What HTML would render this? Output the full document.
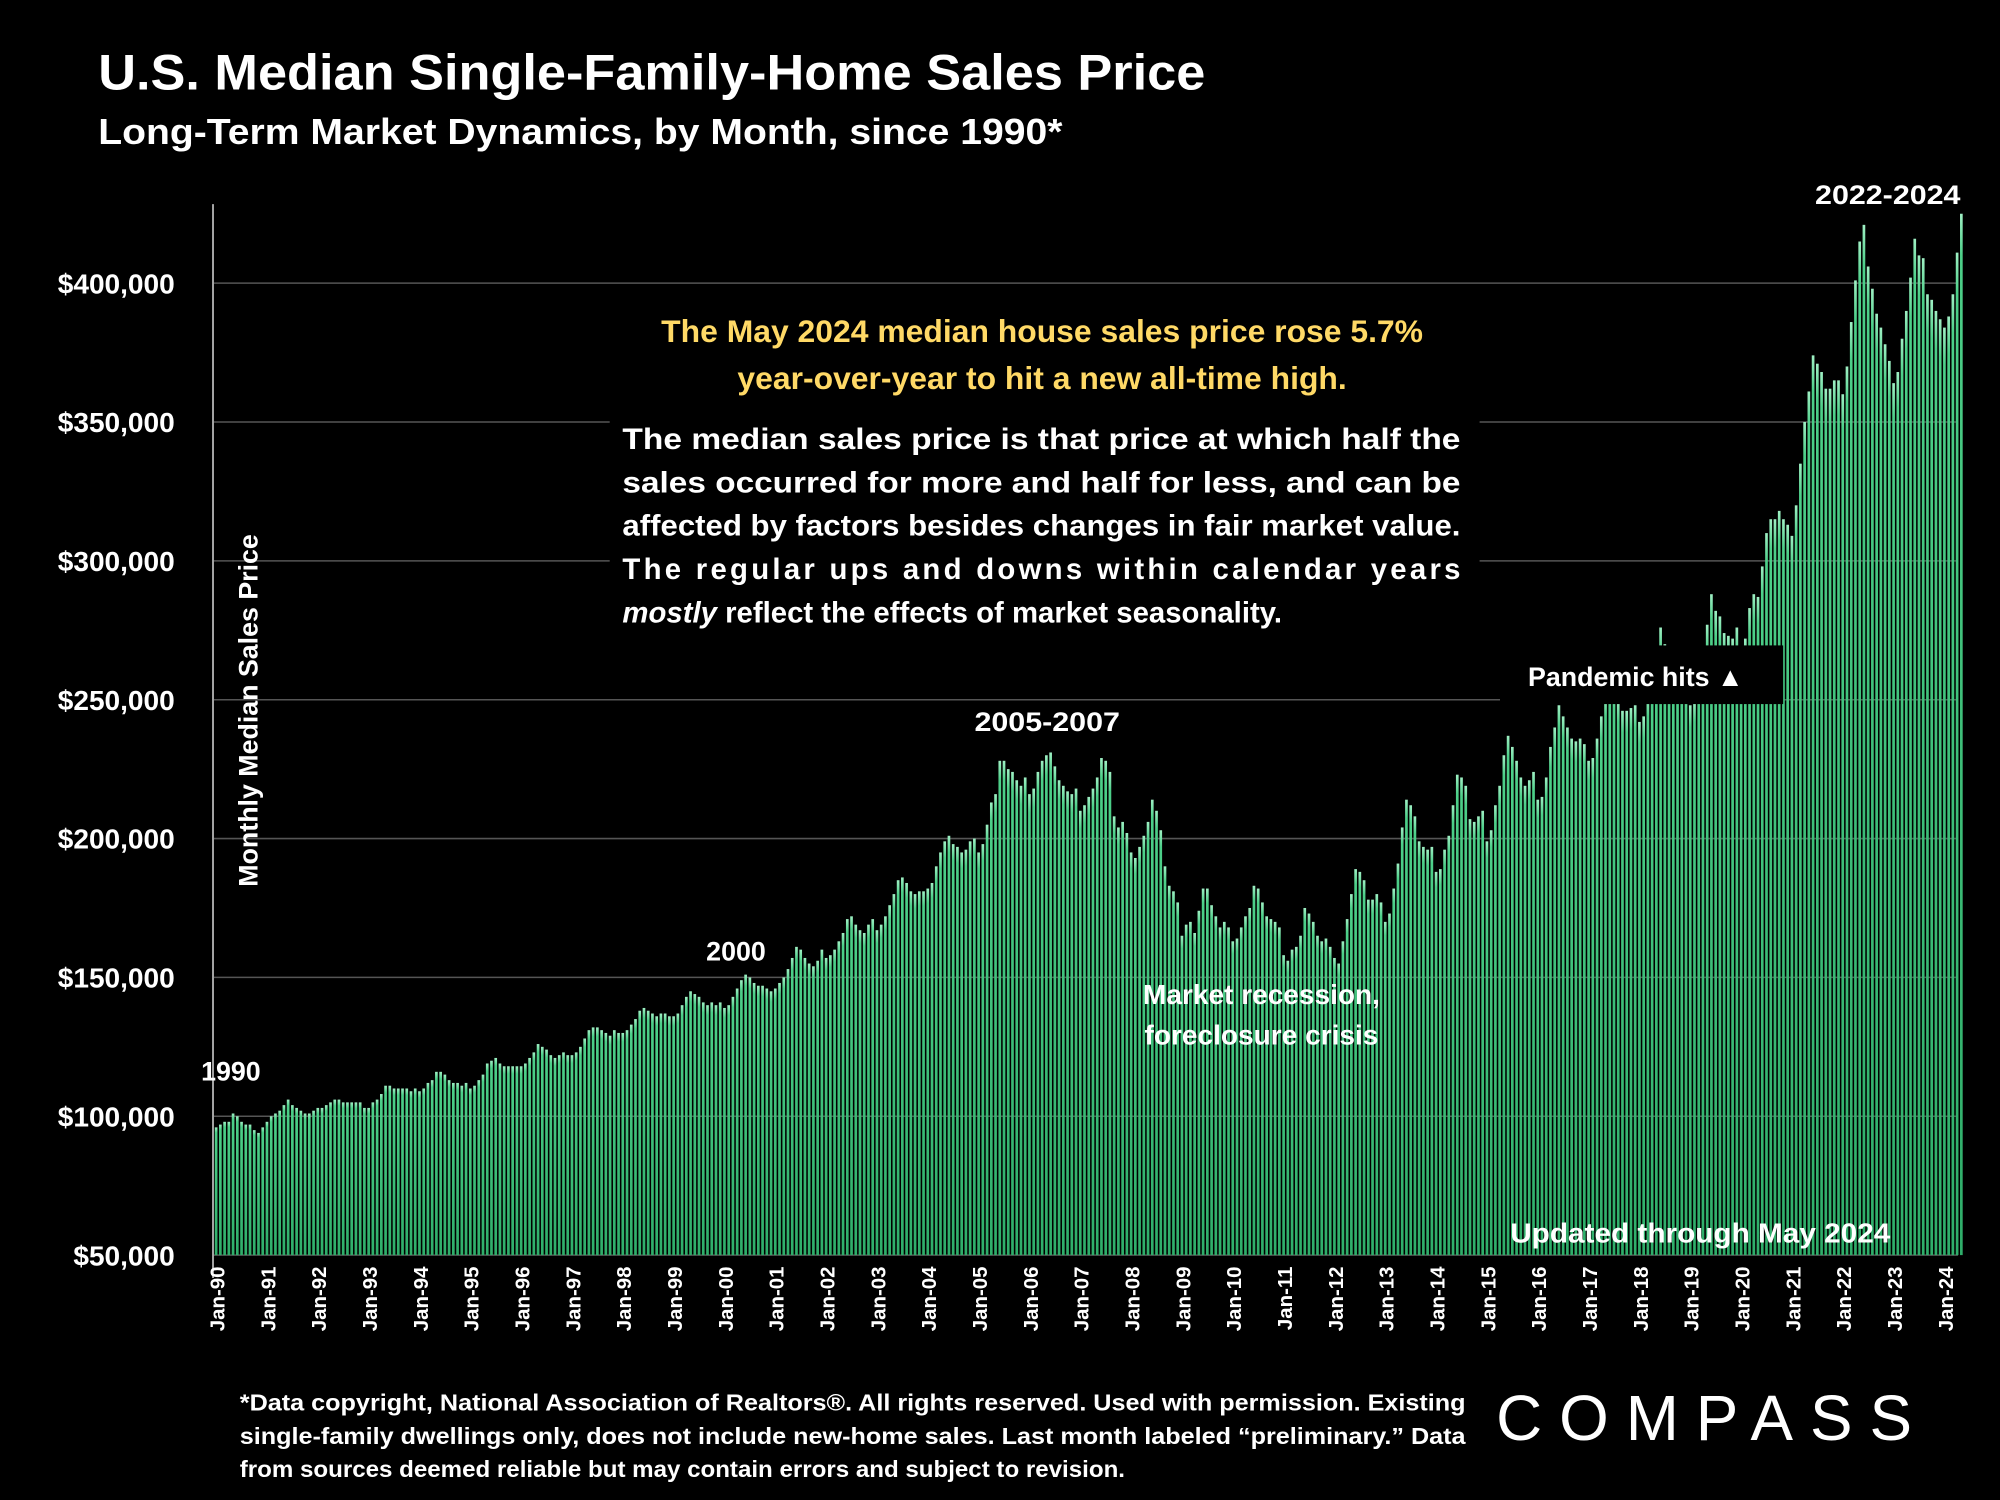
<!DOCTYPE html>
<html><head><meta charset="utf-8"><style>
html,body{margin:0;padding:0;background:#000;width:2000px;height:1500px;overflow:hidden}
svg{display:block}
text{font-family:"Liberation Sans",sans-serif;font-weight:bold;fill:#fff}
</style></head><body>
<svg id="chart" width="2000" height="1500" viewBox="0 0 1568 1176" xmlns="http://www.w3.org/2000/svg">
<defs><linearGradient id="bg" x1="0" y1="0" x2="0" y2="1"><stop offset="0" stop-color="#9ff0c4"/><stop offset="0.04" stop-color="#4ccf88"/><stop offset="1" stop-color="#2fae6a"/></linearGradient></defs>
<rect x="0" y="0" width="1568" height="1176" fill="#000"/>
<text x="77" y="70" font-size="39" textLength="868" lengthAdjust="spacingAndGlyphs">U.S. Median Single-Family-Home Sales Price</text>
<text x="77" y="113" font-size="28" textLength="756" lengthAdjust="spacingAndGlyphs">Long-Term Market Dynamics, by Month, since 1990*</text>
<g id="grid"></g>
<g id="bars"></g>
<line x1="167" y1="160" x2="167" y2="1002" stroke="#aaa" stroke-width="1.5"/>
<g id="yticks"></g>
<g id="xticks"></g>
<text transform="translate(202,557) rotate(-90)" text-anchor="middle" font-size="21">Monthly Median Sales Price</text>
<text x="181" y="847" text-anchor="middle" font-size="21">1990</text>
<text x="577" y="753" text-anchor="middle" font-size="21">2000</text>
<text x="821" y="573" text-anchor="middle" font-size="21" textLength="114" lengthAdjust="spacingAndGlyphs">2005-2007</text>
<text x="1480" y="160" text-anchor="middle" font-size="21" textLength="114" lengthAdjust="spacingAndGlyphs">2022-2024</text>
<rect x="478" y="326" width="682" height="170" fill="#000"/>
<text text-anchor="middle" font-size="25" style="fill:#ffd966"><tspan x="817" y="268">The May 2024 median house sales price rose 5.7%</tspan><tspan x="817" y="305">year-over-year to hit a new all-time high.</tspan></text>
<g font-size="23">
<text x="488" y="352" textLength="657" lengthAdjust="spacingAndGlyphs">The median sales price is that price at which half the</text>
<text x="488" y="386" textLength="657" lengthAdjust="spacingAndGlyphs">sales occurred for more and half for less, and can be</text>
<text x="488" y="420" textLength="657" lengthAdjust="spacingAndGlyphs">affected by factors besides changes in fair market value.</text>
<text x="488" y="454" textLength="657" lengthAdjust="spacing">The regular ups and downs within calendar years</text>
<text x="488" y="488"><tspan font-style="italic">mostly</tspan> reflect the effects of market seasonality.</text>
</g>
<rect x="1176" y="506" width="222" height="46" fill="#000"/>
<text x="1198" y="538" font-size="21">Pandemic hits ▲</text>
<text text-anchor="middle" font-size="22"><tspan x="989" y="787">Market recession,</tspan><tspan x="989" y="819">foreclosure crisis</tspan></text>
<text x="1333" y="974" text-anchor="middle" font-size="22" textLength="298" lengthAdjust="spacingAndGlyphs">Updated through May 2024</text>
<g font-size="18">
<text x="188" y="1106" textLength="961" lengthAdjust="spacingAndGlyphs">*Data copyright, National Association of Realtors®. All rights reserved. Used with permission. Existing</text>
<text x="188" y="1132" textLength="961" lengthAdjust="spacingAndGlyphs">single-family dwellings only, does  not include new-home sales. Last month labeled “preliminary.” Data</text>
<text x="188" y="1158" textLength="694" lengthAdjust="spacingAndGlyphs">from sources deemed reliable but may contain errors and subject to revision.</text>
</g>
<text x="1173" y="1129" font-size="50" style="font-weight:normal" letter-spacing="6" textLength="332" lengthAdjust="spacing">COMPASS</text>
</svg>
<script>
const yTicks = [50000,100000,150000,200000,250000,300000,350000,400000];
const xYears = ["90","91","92","93","94","95","96","97","98","99","00","01","02","03","04","05","06","07","08","09","10","11","12","13","14","15","16","17","18","19","20","21","22","23","24"];
const prices = [
96,97,98,98,101,100,98,97,97,95,94,96,
98,100,101,102,104,106,104,103,102,101,101,102,
103,103,104,105,106,106,105,105,105,105,105,103,
103,105,106,108,111,111,110,110,110,110,109,110,
109,110,112,113,116,116,115,113,112,112,111,112,
110,111,113,115,119,120,121,119,118,118,118,118,
118,119,121,123,126,125,124,122,121,122,123,122,
122,123,125,128,131,132,132,131,130,129,131,130,
130,131,133,135,138,139,138,137,136,137,137,136,
136,137,140,143,145,144,143,141,140,141,140,141,
139,140,143,146,149,151,150,148,147,147,146,145,
146,148,150,153,157,161,160,157,155,154,156,160,
157,158,160,163,166,171,172,169,167,166,169,171,
167,169,172,176,180,185,186,184,181,180,181,181,
182,184,190,195,199,201,198,197,195,196,199,200,
195,198,205,213,216,228,228,225,224,221,219,222,
216,218,224,228,230,231,226,221,219,217,216,218,
210,212,215,218,222,229,228,224,208,204,206,202,
195,193,197,201,206,214,210,203,190,183,181,177,
165,169,170,166,174,182,182,176,172,168,170,168,
163,164,168,172,175,183,182,177,172,171,170,168,
158,156,160,161,165,175,173,170,165,163,164,161,
157,155,163,171,180,189,188,185,178,178,180,177,
170,173,182,191,204,214,212,208,199,197,196,197,
188,189,196,201,212,223,222,219,207,206,208,210,
199,203,212,219,230,237,233,228,222,219,221,224,
214,215,222,233,240,248,244,240,236,235,236,234,
228,229,236,244,252,256,255,250,246,246,247,248,
242,244,252,258,264,276,270,264,258,256,256,255,
248,250,260,268,277,288,282,280,274,273,272,276,
266,272,283,288,287,298,310,315,315,318,315,313,
309,320,335,350,361,374,371,368,362,362,365,365,
360,370,386,401,415,421,406,398,389,384,378,372,
364,368,380,390,402,416,410,409,396,394,390,387,
384,388,396,411,425
];
const NS="http://www.w3.org/2000/svg";
const slot=3.321, x0=168.4;
function xPos(i){return x0+i*slot;}
function yPos(v){return 984-(v-50000)*(762/350000);}
const grid=document.getElementById('grid'), yt=document.getElementById('yticks'), xt=document.getElementById('xticks'), bars=document.getElementById('bars');
yTicks.forEach(v=>{
  const l=document.createElementNS(NS,'line');
  l.setAttribute('x1',167);l.setAttribute('x2',1535);l.setAttribute('y1',yPos(v));l.setAttribute('y2',yPos(v));
  l.setAttribute('stroke','#555');l.setAttribute('stroke-width','1.2');
  
  
  grid.appendChild(l);
  const t=document.createElementNS(NS,'text');
  t.setAttribute('x',137);t.setAttribute('y',yPos(v)+8);t.setAttribute('text-anchor','end');t.setAttribute('font-size','22');
  t.textContent='$'+v.toLocaleString('en-US');
  
  
  yt.appendChild(t);
});
prices.forEach((p,i)=>{
  const r=document.createElementNS(NS,'rect');
  const y=yPos(p*1000);
  r.setAttribute('x',xPos(i));r.setAttribute('width',2.1);r.setAttribute('y',y);r.setAttribute('height',984-y);
  r.setAttribute('fill','url(#bg)');
  
  
  bars.appendChild(r);
});
xYears.forEach((yr,k)=>{
  const cx=xPos(k*12)+1.6;
  const t=document.createElementNS(NS,'text');
  t.setAttribute('transform','translate('+(cx+6)+',993) rotate(-90)');
  t.setAttribute('text-anchor','end');t.setAttribute('font-size','16');
  t.textContent='Jan-'+yr;
  
  
  xt.appendChild(t);
});
</script>
</body></html>
